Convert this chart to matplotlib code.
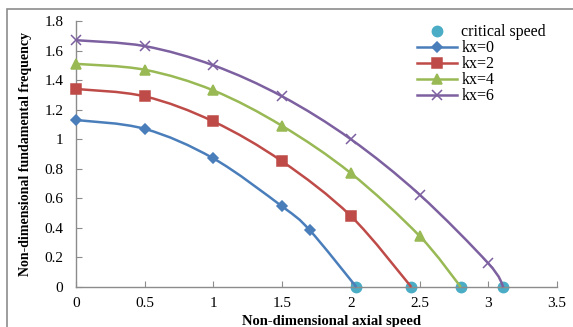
import matplotlib
matplotlib.use("Agg")
import matplotlib.pyplot as plt
from matplotlib.patches import Rectangle, PathPatch
from matplotlib.path import Path
from matplotlib.lines import Line2D

# speeds and fundamental frequencies
x_kx0 = [0, 0.5, 1.0, 1.5, 1.7, 2.04]
y_kx0 = [1.13, 1.07, 0.87, 0.545, 0.385, 0.0]

x_kx2 = [0, 0.5, 1.0, 1.5, 2.0, 2.44]
y_kx2 = [1.34, 1.29, 1.12, 0.85, 0.48, 0.0]

x_kx4 = [0, 0.5, 1.0, 1.5, 2.0, 2.5, 2.8]
y_kx4 = [1.51, 1.47, 1.33, 1.09, 0.77, 0.345, 0.0]

x_kx6 = [0, 0.5, 1.0, 1.5, 2.0, 2.5, 3.0, 3.11]
y_kx6 = [1.67, 1.63, 1.50, 1.29, 1.0, 0.625, 0.16, 0.0]

crit_x = [2.04, 2.44, 2.8, 3.11]
crit_y = [0, 0, 0, 0]

xticks = [0, 0.5, 1, 1.5, 2, 2.5, 3, 3.5]
xtick_labels = ["0", "0.5", "1", "1.5", "2", "2.5", "3", "3.5"]
yticks = [0, 0.2, 0.4, 0.6, 0.8, 1.0, 1.2, 1.4, 1.6, 1.8]
ytick_labels = ["0", "0.2", "0.4", "0.6", "0.8", "1", "1.2", "1.4", "1.6", "1.8"]


def smooth_path(xs, ys):
    # Excel-style smoothed line: bezier through every point
    pts = list(zip(xs, ys))
    n = len(pts)
    verts = [pts[0]]
    codes = [Path.MOVETO]
    for i in range(n - 1):
        p0 = pts[i - 1] if i > 0 else pts[i]
        p1 = pts[i]
        p2 = pts[i + 1]
        p3 = pts[i + 2] if i + 2 < n else pts[i + 1]
        c1 = (p1[0] + (p2[0] - p0[0]) / 6, p1[1] + (p2[1] - p0[1]) / 6)
        c2 = (p2[0] - (p3[0] - p1[0]) / 6, p2[1] - (p3[1] - p1[1]) / 6)
        verts += [c1, c2, p2]
        codes += [Path.CURVE4] * 3
    return Path(verts, codes)


plt.rcParams['font.family'] = "serif"
plt.rcParams['font.serif'] = ["Liberation Serif", "DejaVu Serif"]

fig = plt.figure(figsize=(5.73, 3.27), dpi=100)
fig.patches.append(Rectangle((7 / 573, -0.1), 1.2, 1 - 9 / 327 + 0.1,
                             transform=fig.transFigure, fill=False,
                             edgecolor="#8c8c8c", lw=1.2))

ax = fig.add_axes([76 / 573, 1 - 287 / 327, (557 - 76) / 573, (287 - 21) / 327])

series = [
    (x_kx0, y_kx0, "#4A7EBB", "D", 5, "kx=0"),
    (x_kx2, y_kx2, "#BE4B48", "s", 7, "kx=2"),
    (x_kx4, y_kx4, "#98B954", "^", 7.5, "kx=4"),
    (x_kx6, y_kx6, "#7D60A0", "x", 7, "kx=6"),
]

ax.plot(crit_x, crit_y, ls="none", marker="o", ms=7.5, color="#4BACC6",
        clip_on=False, zorder=2)
handles = [Line2D([], [], ls="none", marker="o", ms=7.5, color="#4BACC6",
                  label="critical speed")]
for xs, ys, col, mk, ms, lab in series:
    ax.add_patch(PathPatch(smooth_path(xs, ys), fill=False, edgecolor=col,
                           lw=1.8, clip_on=False, zorder=3))
    ax.plot(xs[:-1], ys[:-1], ls="none", marker=mk, ms=ms, mew=1.1,
            color=col, clip_on=False, zorder=4)
    handles.append(Line2D([], [], color=col, lw=1.8, marker=mk, ms=ms,
                          mew=1.1, label=lab))

ax.set_xlim(0, 3.5)
ax.set_ylim(0, 1.8)
ax.set_xticks(xticks)
ax.set_xticklabels(xtick_labels)
ax.set_yticks(yticks)
ax.set_yticklabels(ytick_labels)
ax.tick_params(direction="in", length=4, color="#8c8c8c", labelsize=11)
ax.tick_params(axis="x", pad=7)
ax.tick_params(axis="y", pad=9)
for side in ["top", "right"]:
    ax.spines[side].set_visible(False)
for side in ["left", "bottom"]:
    ax.spines[side].set_color("#8c8c8c")
    ax.spines[side].set_linewidth(1.0)

ax.set_ylabel("Non-dimensional fundamental frequency", fontsize=10,
              fontweight="bold", labelpad=9)
fig.text(331 / 573, 1 - 321 / 327, "Non-dimensional axial speed",
         ha="center", va="center", fontsize=10.5, fontweight="bold")

ax.legend(handles=handles, loc="upper left", bbox_to_anchor=(0.685, 1.03),
          frameon=False, fontsize=11.5, handlelength=2.5, handletextpad=0.3,
          labelspacing=0.0, borderpad=0.2)

fig.savefig("out.png", dpi=100)
